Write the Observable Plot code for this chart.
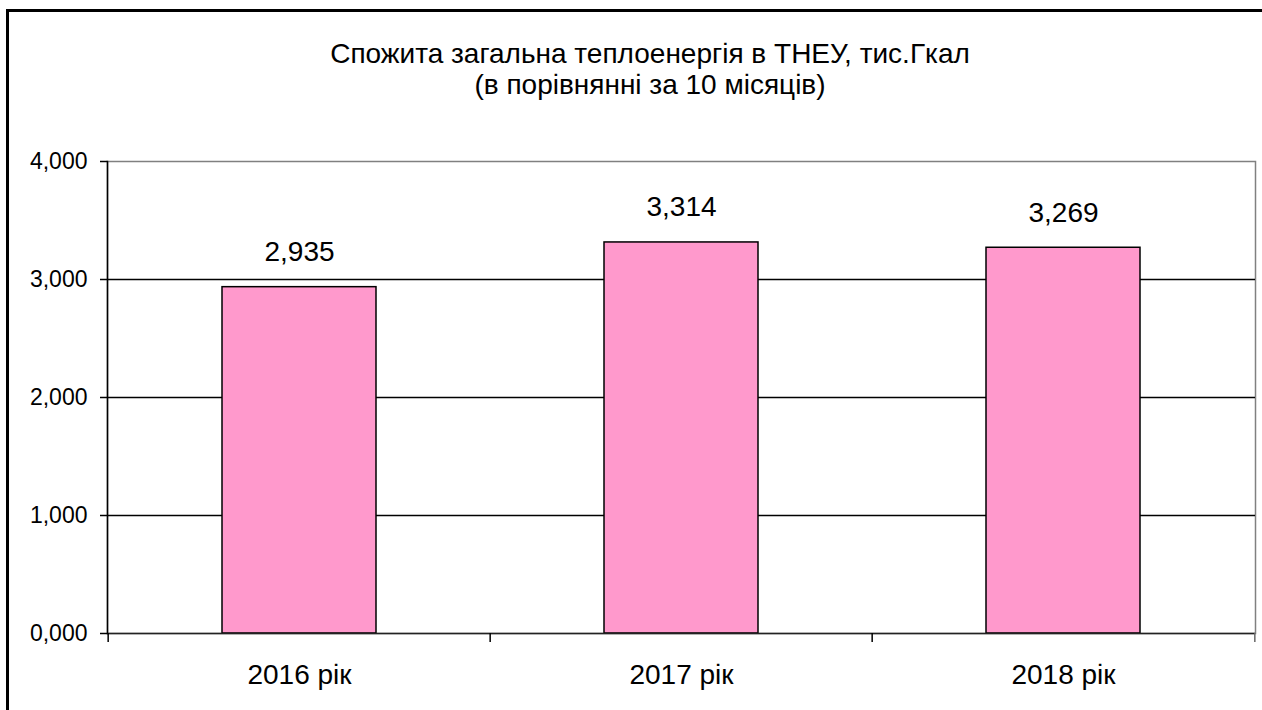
<!DOCTYPE html>
<html>
<head>
<meta charset="utf-8">
<script src="https://cdn.jsdelivr.net/npm/d3@7"></script>
<script src="https://cdn.jsdelivr.net/npm/@observablehq/plot@0.6"></script>
<style>
  html, body { margin: 0; padding: 0; background: #fff; }
  #wrap { position: relative; width: 1262px; height: 710px; overflow: hidden; font-family: "Liberation Sans", Arial, sans-serif; }
  #frame { position: absolute; left: 6px; top: 9px; width: 1400px; height: 800px; border-left: 3px solid #000; border-top: 3px solid #000; }
  #title { position: absolute; left: 0; width: 1300px; top: 38px; text-align: center; font-size: 28px; line-height: 31px; color: #000; }
  #chart { position: absolute; left: 0; top: 0; }
</style>
</head>
<body>
<div id="wrap">
  <div id="frame"></div>
  <div id="chart"></div>
  <div id="title">Спожита загальна теплоенергія в ТНЕУ, тис.Гкал<br>(в порівнянні за 10 місяців)</div>
</div>
<script>
const categories = ["2016 рік", "2017 рік", "2018 рік"];
const values = [2.935, 3.314, 3.269];
const yTicks = [0, 1, 2, 3, 4];
const gridLines = [1, 2, 3];

const data = categories.map((c, i) => ({cat: c, value: values[i]}));
const fmt = d => d.toFixed(3).replace(".", ",");

const W = 1262, H = 710, mL = 107, mR = 7, mT = 161, mB = 77;
const step = (W - mL - mR) / categories.length;

const chart = Plot.plot({
  width: W,
  height: H,
  marginLeft: mL,
  marginRight: mR,
  marginTop: mT,
  marginBottom: mB,
  style: {fontFamily: "'Liberation Sans', Arial, sans-serif", background: "transparent", color: "#000"},
  x: {domain: categories, paddingInner: 0.598, paddingOuter: 0.299, label: null},
  y: {domain: [0, 4], label: null},
  marks: [
    Plot.frame({stroke: "#808080", strokeWidth: 1.5}),
    Plot.ruleY(gridLines, {stroke: "#000", strokeWidth: 1.5}),
    Plot.barY(data, {x: "cat", y: "value", fill: "#FF99CC", stroke: "#000", strokeWidth: 1.5}),
    Plot.ruleY([0], {stroke: "#222", strokeWidth: 1.5}),
    Plot.frame({anchor: "left", stroke: "#000", strokeWidth: 1.5}),
    Plot.ruleX(categories, {x: d => d, dx: -step / 2, y1: 0, y2: 0, insetBottom: -9, stroke: "#000", strokeWidth: 1.5}),
    Plot.ruleX([categories[categories.length - 1]], {x: d => d, dx: step / 2, y1: 0, y2: 0, insetBottom: -9, stroke: "#666", strokeWidth: 1.5}),
    Plot.axisY({ticks: yTicks, tickFormat: fmt, tickSize: 7, tickPadding: 13, fontSize: 23, stroke: "#000", strokeWidth: 1.5}),
    Plot.axisX({tickSize: 0, tickPadding: 31, fontSize: 28}),
    Plot.text(data, {x: "cat", y: "value", text: d => fmt(d.value), dy: -35, fontSize: 28, fill: "#000"})
  ]
});
document.getElementById("chart").appendChild(chart);
</script>
</body>
</html>
